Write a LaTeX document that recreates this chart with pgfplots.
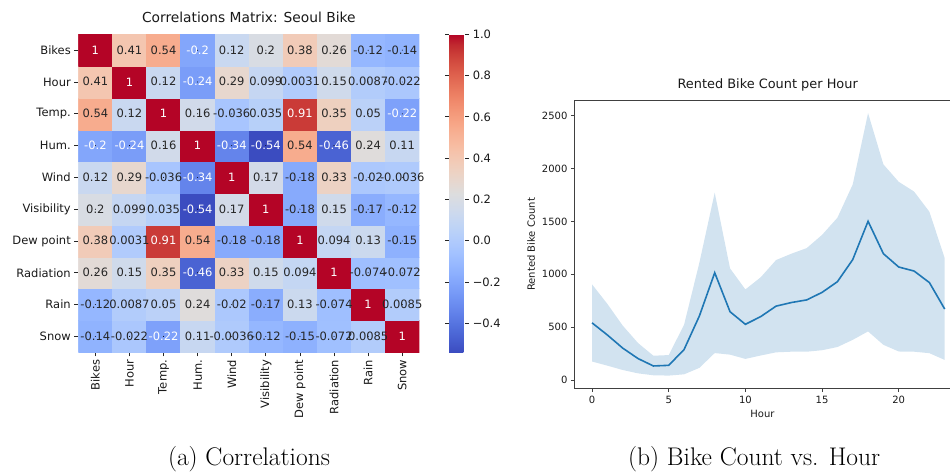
\documentclass[border=0pt]{standalone}
\usepackage{fontspec}
\usepackage{pgfplots}
\usepackage{pgfplotstable}
\pgfplotsset{compat=1.18}

\newfontfamily\dv{DejaVu Sans}
\definecolor{tabblue}{RGB}{31,119,180}
\definecolor{bandblue}{RGB}{210,227,240}
\definecolor{annot}{RGB}{38,38,38}

% coolwarm diverging colour map
\pgfplotsset{colormap={coolwarm}{
 rgb255=(59,76,192) rgb255=(68,90,204) rgb255=(77,104,215) rgb255=(87,117,225)
 rgb255=(98,130,234) rgb255=(108,142,241) rgb255=(119,154,247) rgb255=(130,165,251)
 rgb255=(141,176,254) rgb255=(152,185,255) rgb255=(163,194,255) rgb255=(174,201,253)
 rgb255=(184,208,249) rgb255=(194,213,244) rgb255=(204,217,238) rgb255=(213,219,230)
 rgb255=(221,221,221) rgb255=(229,216,209) rgb255=(236,211,197) rgb255=(241,204,185)
 rgb255=(245,196,173) rgb255=(247,187,160) rgb255=(247,177,148) rgb255=(247,166,135)
 rgb255=(244,154,123) rgb255=(241,141,111) rgb255=(236,127,99) rgb255=(229,112,88)
 rgb255=(222,96,77) rgb255=(213,80,66) rgb255=(203,62,56) rgb255=(192,40,47)
 rgb255=(180,4,38)}}

% correlation matrix: x = column, y = 9 - row (Bikes on top); w = 1 for white text
\pgfplotstableread{
x y c w
0 0 -0.14 0
1 0 -0.022 0
2 0 -0.22 1
3 0 0.11 0
4 0 -0.0036 0
5 0 -0.12 0
6 0 -0.15 0
7 0 -0.072 0
8 0 0.0085 0
9 0 1 1
0 1 -0.12 0
1 1 0.0087 0
2 1 0.05 0
3 1 0.24 0
4 1 -0.02 0
5 1 -0.17 0
6 1 0.13 0
7 1 -0.074 0
8 1 1 1
9 1 0.0085 0
0 2 0.26 0
1 2 0.15 0
2 2 0.35 0
3 2 -0.46 1
4 2 0.33 0
5 2 0.15 0
6 2 0.094 0
7 2 1 1
8 2 -0.074 0
9 2 -0.072 0
0 3 0.38 0
1 3 0.0031 0
2 3 0.91 1
3 3 0.54 0
4 3 -0.18 0
5 3 -0.18 0
6 3 1 1
7 3 0.094 0
8 3 0.13 0
9 3 -0.15 0
0 4 0.2 0
1 4 0.099 0
2 4 0.035 0
3 4 -0.54 1
4 4 0.17 0
5 4 1 1
6 4 -0.18 0
7 4 0.15 0
8 4 -0.17 0
9 4 -0.12 0
0 5 0.12 0
1 5 0.29 0
2 5 -0.036 0
3 5 -0.34 1
4 5 1 1
5 5 0.17 0
6 5 -0.18 0
7 5 0.33 0
8 5 -0.02 0
9 5 -0.0036 0
0 6 -0.2 1
1 6 -0.24 1
2 6 0.16 0
3 6 1 1
4 6 -0.34 1
5 6 -0.54 1
6 6 0.54 0
7 6 -0.46 1
8 6 0.24 0
9 6 0.11 0
0 7 0.54 0
1 7 0.12 0
2 7 1 1
3 7 0.16 0
4 7 -0.036 0
5 7 0.035 0
6 7 0.91 1
7 7 0.35 0
8 7 0.05 0
9 7 -0.22 1
0 8 0.41 0
1 8 1 1
2 8 0.12 0
3 8 -0.24 1
4 8 0.29 0
5 8 0.099 0
6 8 0.0031 0
7 8 0.15 0
8 8 0.0087 0
9 8 -0.022 0
0 9 1 1
1 9 0.41 0
2 9 0.54 0
3 9 -0.2 1
4 9 0.12 0
5 9 0.2 0
6 9 0.38 0
7 9 0.26 0
8 9 -0.12 0
9 9 -0.14 0
}\corr

% hourly mean rented bike count
\pgfplotstableread{
h m
0 541
1 426
2 302
3 203
4 133
5 139
6 288
7 606
8 1015
9 646
10 527
11 600
12 699
13 733
14 758
15 829
16 930
17 1139
18 1502
19 1195
20 1069
21 1031
22 922
23 671
}\hourly

% spread band (mean +/- one standard deviation): upper edge forward, lower edge back
\pgfplotstableread{
h v
0 905
1 720
2 515
3 350
4 230
5 236
6 522
7 1110
8 1772
9 1056
10 857
11 972
12 1135
13 1195
14 1248
15 1373
16 1535
17 1850
18 2525
19 2040
20 1875
21 1783
22 1592
23 1152
23 190
22 254
21 268
20 270
19 333
18 460
17 380
16 312
15 282
14 268
13 268
12 262
11 232
10 200
9 240
8 255
7 115
6 54
5 42
4 45
3 63
2 95
1 136
0 175
}\band

\newcommand\smallfont{\dv\fontsize{11.5}{13.8}\selectfont}
\newcommand\tickfont{\dv\fontsize{10}{12}\selectfont}

% cell annotations: value text centred in each cell
\pgfplotsset{cell labels/.style={
  only marks, mark=*, mark size=0.2pt, mark options={draw=none, fill=none},
  point meta=explicit symbolic, nodes near coords,
  every node near coord/.append style={font=\smallfont, inner sep=0pt, yshift=-4.2pt, text=#1},
}}

\begin{document}
\begin{tikzpicture}
% page frame
\path (0pt,0pt) rectangle (951pt,472pt);

% ---------- correlation heat map ----------
\begin{axis}[
  at={(78.3pt,119.7pt)}, anchor=south west,
  scale only axis, width=341pt, height=318pt,
  xmin=-0.5, xmax=9.5, ymin=-0.5, ymax=9.5,
  axis line style={draw=none},
  xtick={0,...,9}, ytick={0,...,9},
  xticklabels={Bikes,Hour,Temp.,Hum.,Wind,Visibility,Dew point,Radiation,Rain,Snow},
  yticklabels={Snow,Rain,Radiation,Dew point,Visibility,Wind,Hum.,Temp.,Hour,Bikes},
  xtick pos=bottom, ytick pos=left,
  tick align=outside, major tick length=4pt,
  tick style={black!85, line width=0.8pt},
  tick label style={font=\smallfont, text=black!90},
  x tick label style={rotate=90, anchor=east},
  colormap name=coolwarm,
  point meta min=-0.54, point meta max=1,
  title={Correlations Matrix: Seoul Bike},
  title style={font=\dv\fontsize{13.8}{16}\selectfont, at={(0.5,1)}, anchor=base, inner sep=0pt, yshift=6pt, text=black!90},
  colorbar,
  colorbar style={
    at={(parent axis.north east)}, anchor=north west, xshift=21.4pt,
    scale only axis, width=16pt, height=318pt,
    axis line style={draw=none},
    ytick={-0.4,-0.2,0,0.2,0.4,0.6,0.8,1},
    yticklabels={−0.4,−0.2,0.0,0.2,0.4,0.6,0.8,1.0},
    tick align=outside, major tick length=4pt,
    tick style={black!85, line width=0.8pt},
    yticklabel style={font=\smallfont, text=black!90},
  },
]
\addplot [matrix plot*, mesh/cols=10, point meta=explicit] table [x=x, y=y, meta=c] {\corr};
\addplot [cell labels=annot, restrict expr to domain={\thisrow{w}}{-0.5:0.5}] table [x=x, y=y, meta=c] {\corr};
\addplot [cell labels=white, restrict expr to domain={\thisrow{w}}{0.5:1.5}] table [x=x, y=y, meta=c] {\corr};
\end{axis}

% ---------- rented bikes per hour (right edge runs to the page border) ----------
\begin{axis}[
  at={(574.4pt,83.3pt)}, anchor=south west,
  scale only axis, width=376pt, height=288.7pt,
  xmin=-1.15, xmax=23.37, ymin=-82, ymax=2649,
  axis x line*=box, axis y line*=left,
  xtick={0,5,10,15,20}, ytick={0,500,1000,1500,2000,2500},
  xtick pos=bottom, ytick pos=left,
  tick align=outside, major tick length=3.5pt,
  axis line style={black!75, line width=0.9pt},
  tick style={black!75, line width=0.8pt},
  scaled ticks=false,
  /pgf/number format/1000 sep={},
  /pgf/number format/assume math mode=true,
  tick label style={font=\tickfont, text=black!90},
  xlabel={Hour}, ylabel={Rented Bike Count},
  label style={font=\tickfont, text=black!90},
  title={Rented Bike Count per Hour},
  title style={font=\dv\fontsize{12.9}{15}\selectfont, at={(0.5,1)}, anchor=base, inner sep=0pt, xshift=5.3pt, yshift=5.7pt, text=black!90},
  clip=false,
]
\addplot [fill=bandblue, draw=none] table [x=h, y=v] {\band} -- cycle;
\addplot [tabblue, line width=1.6pt, no markers] table [x=h, y=m] {\hourly};
% top spine
\draw [black!75, line width=0.9pt] (rel axis cs:0,1) -- (rel axis cs:1,1);
\end{axis}

% ---------- sub-figure captions ----------
\node [anchor=base, inner sep=0pt, font=\fontsize{25.5}{30}\selectfont] at (249pt,6pt) {(a) Correlations};
\node [anchor=base, inner sep=0pt, font=\fontsize{25.5}{30}\selectfont] at (754.2pt,6pt) {(b) Bike Count vs. Hour};
\end{tikzpicture}
\end{document}
